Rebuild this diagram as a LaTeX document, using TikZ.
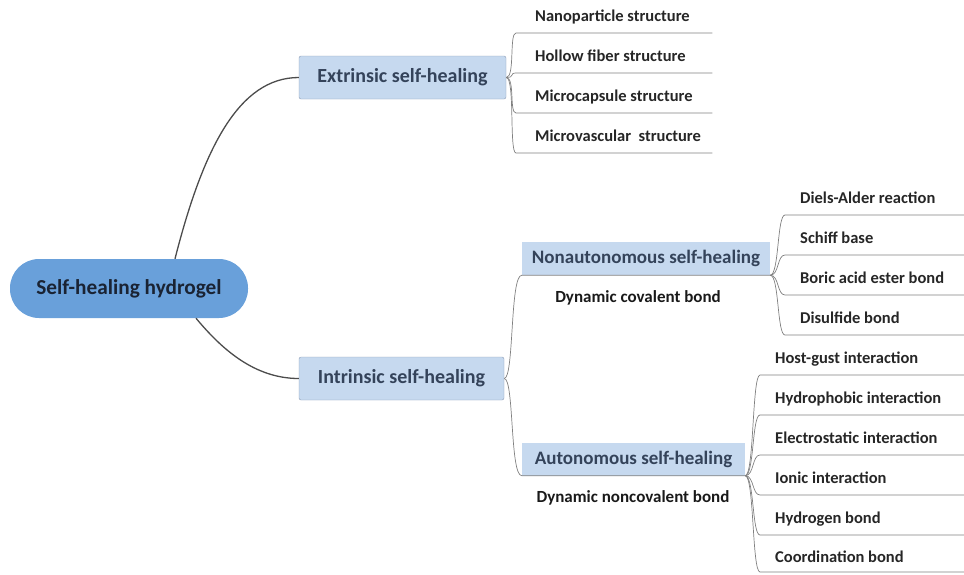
\documentclass[tikz,border=0pt]{standalone}
\usepackage{fontspec}
\setmainfont{Carlito}
\usepackage{xcolor}
\definecolor{rootblue}{HTML}{69A0DA}
\definecolor{boxblue}{HTML}{C6D9EF}
\definecolor{boxline}{HTML}{8D9CB4}
\definecolor{titletext}{HTML}{34435A}
\definecolor{roottext}{HTML}{1A2333}
\tikzstyle{rootbox} = [fill=rootblue, rounded corners=29pt, minimum width=238pt,
    minimum height=59pt, text=roottext, font=\fontsize{21.3}{24}\selectfont\bfseries]
\tikzstyle{topicbox} = [draw=boxline, fill=boxblue, rounded corners=2pt,
    minimum height=43pt, text=titletext, font=\fontsize{20}{23}\selectfont\bfseries]
\tikzstyle{subbox} = [fill=boxblue, minimum height=33pt, inner xsep=0pt,
    text=titletext, font=\fontsize{19}{22}\selectfont\bfseries]
\tikzstyle{note} = [text=black!90, font=\fontsize{17}{20}\selectfont\bfseries]
\tikzstyle{leaf} = [anchor=south west, inner sep=0pt, text depth=11pt, align=flush left,
    text width=#1, text=black!85, font=\fontsize{16.5}{19}\selectfont\bfseries]
\tikzstyle{branch} = [draw=black!70, line width=1.3pt]
\tikzstyle{twig} = [draw=black!50, line width=0.7pt]

\begin{document}
\begin{tikzpicture}[x=1pt, y=-1pt]
\useasboundingbox (0,0) rectangle (964,574);

\node [rootbox] (root) at (129,288.5) {Self-healing hydrogel};
\node [topicbox, minimum width=207pt] (ext) at (402.5,77.5) {Extrinsic self-healing};
\node [topicbox, minimum width=205pt] (intr) at (401.5,378.5) {Intrinsic self-healing};
\node [subbox, minimum width=248pt] (nonauto) at (646,258.5) {Nonautonomous self-healing};
\node [subbox, minimum width=223pt] (auto) at (633.5,459) {Autonomous self-healing};
\node [note] (cov) at (638,298) {Dynamic covalent bond};
\node [note] (noncov) at (633,498) {Dynamic noncovalent bond};

% extrinsic leaves
\node [leaf=177pt] (e1) at (535,33) {Nanoparticle structure};
\node [leaf=177pt] (e2) at (535,73) {Hollow fiber structure};
\node [leaf=177pt] (e3) at (535,113) {Microcapsule structure};
\node [leaf=177pt] (e4) at (535,153) {Microvascular\ \ structure};

% nonautonomous leaves
\node [leaf=164pt] (n1) at (800,215) {Diels-Alder reaction};
\node [leaf=164pt] (n2) at (800,255) {Schiff base};
\node [leaf=164pt] (n3) at (800,295) {Boric acid ester bond};
\node [leaf=164pt] (n4) at (800,335) {Disulfide bond};

% autonomous leaves
\node [leaf=189pt] (a1) at (775,375) {Host-gust interaction};
\node [leaf=189pt] (a2) at (775,415) {Hydrophobic interaction};
\node [leaf=189pt] (a3) at (775,455) {Electrostatic interaction};
\node [leaf=189pt] (a4) at (775,495) {Ionic interaction};
\node [leaf=189pt] (a5) at (775,535) {Hydrogen bond};
\node [leaf=189pt, text depth=9pt] (a6) at (775,572) {Coordination bond};

% main branches
\draw [branch] ([xshift=46pt]root.north) .. controls +(28,-110) and +(-60,0) .. (ext.west);
\draw [branch] ([xshift=67pt]root.south) .. controls +(25,30) and +(-45,0) .. (intr.west);

\draw [twig] (ext.east) .. controls +(9,0) and +(-7,0) .. ([xshift=-19pt]e1.south west) -- (e1.south east);
\draw [twig] (ext.east) .. controls +(9,0) and +(-7,0) .. ([xshift=-19pt]e2.south west) -- (e2.south east);
\draw [twig] (ext.east) .. controls +(9,0) and +(-7,0) .. ([xshift=-19pt]e3.south west) -- (e3.south east);
\draw [twig] (ext.east) .. controls +(9,0) and +(-7,0) .. ([xshift=-19pt]e4.south west) -- (e4.south east);

\draw [twig] (intr.east) .. controls +(10,0) and +(-12,0) .. (nonauto.south west) -- (nonauto.south east);
\draw [twig] (intr.east) .. controls +(10,0) and +(-12,0) .. (auto.south west) -- (auto.south east);

\draw [twig] (nonauto.south east) .. controls +(9,0) and +(-8,0) .. ([xshift=-15pt]n1.south west) -- (n1.south east);
\draw [twig] (nonauto.south east) .. controls +(9,0) and +(-8,0) .. ([xshift=-15pt]n2.south west) -- (n2.south east);
\draw [twig] (nonauto.south east) .. controls +(9,0) and +(-8,0) .. ([xshift=-15pt]n3.south west) -- (n3.south east);
\draw [twig] (nonauto.south east) .. controls +(9,0) and +(-8,0) .. ([xshift=-15pt]n4.south west) -- (n4.south east);

\draw [twig] (auto.south east) .. controls +(9,0) and +(-8,0) .. ([xshift=-15pt]a1.south west) -- (a1.south east);
\draw [twig] (auto.south east) .. controls +(9,0) and +(-8,0) .. ([xshift=-15pt]a2.south west) -- (a2.south east);
\draw [twig] (auto.south east) .. controls +(9,0) and +(-8,0) .. ([xshift=-15pt]a3.south west) -- (a3.south east);
\draw [twig] (auto.south east) .. controls +(9,0) and +(-8,0) .. ([xshift=-15pt]a4.south west) -- (a4.south east);
\draw [twig] (auto.south east) .. controls +(9,0) and +(-8,0) .. ([xshift=-15pt]a5.south west) -- (a5.south east);
\draw [twig] (auto.south east) .. controls +(9,0) and +(-8,0) .. ([xshift=-15pt]a6.south west) -- (a6.south east);
\end{tikzpicture}
\end{document}
